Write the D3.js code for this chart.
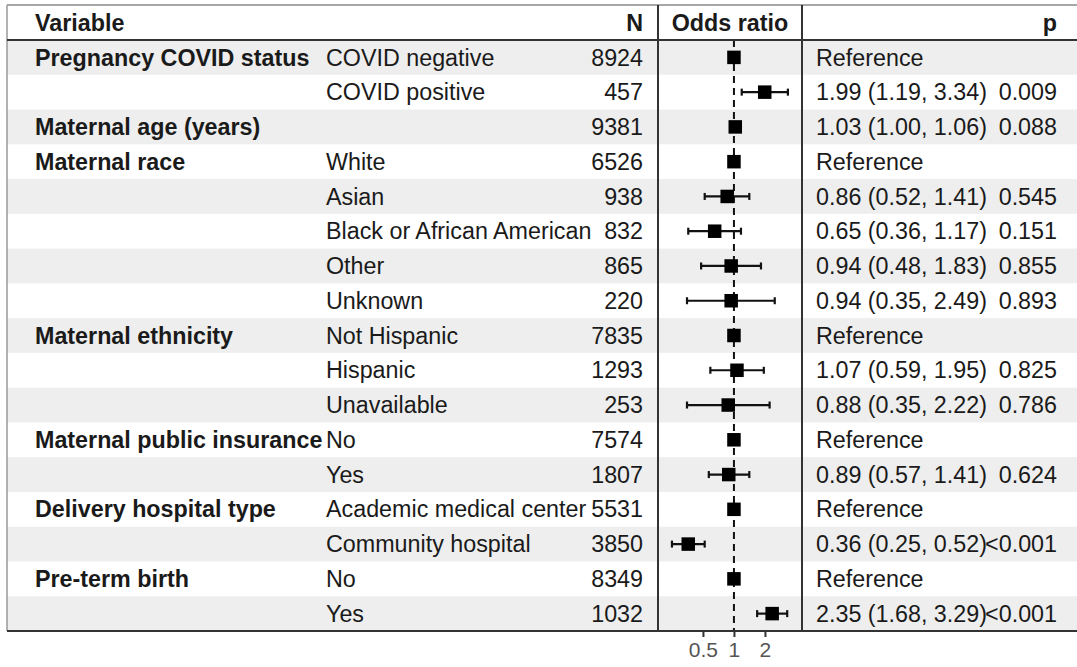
<!DOCTYPE html>
<html>
<head>
<meta charset="utf-8">
<script src="https://cdn.jsdelivr.net/npm/d3@7"></script>
<style>
  body { margin: 0; background: #fff; }
  svg text { font-family: "Liberation Sans", Arial, sans-serif; fill: #1a1a1a; }
</style>
</head>
<body>
<div id="chart"></div>
<script>
// table rows, top to bottom
var groups = ["Pregnancy COVID status", "", "Maternal age (years)", "Maternal race", "", "", "", "",
    "Maternal ethnicity", "", "", "Maternal public insurance", "", "Delivery hospital type", "",
    "Pre-term birth", ""];
var levels = ["COVID negative", "COVID positive", "", "White", "Asian", "Black or African American",
    "Other", "Unknown", "Not Hispanic", "Hispanic", "Unavailable", "No", "Yes",
    "Academic medical center", "Community hospital", "No", "Yes"];
var nValues = [8924, 457, 9381, 6526, 938, 832, 865, 220, 7835, 1293, 253, 7574, 1807, 5531, 3850, 8349, 1032];
var estimates = [1, 1.99, 1.03, 1, 0.86, 0.65, 0.94, 0.94, 1, 1.07, 0.88, 1, 0.89, 1, 0.36, 1, 2.35];
var lower = [null, 1.19, 1.00, null, 0.52, 0.36, 0.48, 0.35, null, 0.59, 0.35, null, 0.57, null, 0.25, null, 1.68];
var upper = [null, 3.34, 1.06, null, 1.41, 1.17, 1.83, 2.49, null, 1.95, 2.22, null, 1.41, null, 0.52, null, 3.29];
var pValues = ["", "0.009", "0.088", "", "0.545", "0.151", "0.855", "0.893", "", "0.825", "0.786", "",
    "0.624", "", "<0.001", "", "<0.001"];
var tickValues = [0.5, 1, 2];

var width = 1077;
var height = 667;
var fontSize = 23.3;

var tableTop = 5, headBottom = 40, tableBottom = 631;
var tableLeft = 7, tableRight = 1077;
var colLevel = 326, colN = 643, plotLeft = 658, plotRight = 802, colEst = 816, colP = 1057;

var rows = d3.range(estimates.length);

var y = d3.scaleBand()
    .domain(rows)
    .range([headBottom, tableBottom]);

// log scale for odds ratio column
var x = d3.scaleLog()
    .domain([0.183, 4.58])
    .range([plotLeft, plotRight]);

var svg = d3.select('#chart').append('svg')
    .attr('width', width)
    .attr('height', height);

// striped row backgrounds
svg.append('g').selectAll('rect')
    .data(rows.filter(function (i) { return i % 2 === 0; }))
    .enter().append('rect')
    .attr('x', tableLeft)
    .attr('y', function (i) { return y(i); })
    .attr('width', tableRight - tableLeft)
    .attr('height', y.bandwidth())
    .attr('fill', '#eeeeee');

// header
var head = svg.append('g').attr('font-weight', 'bold').attr('font-size', fontSize);
var headY = (tableTop + headBottom) / 2;
head.append('text').attr('x', 35).attr('y', headY).attr('dy', '0.35em').text('Variable');
head.append('text').attr('x', colN).attr('y', headY).attr('dy', '0.35em').attr('text-anchor', 'end').text('N');
head.append('text').attr('x', (plotLeft + plotRight) / 2).attr('y', headY).attr('dy', '0.35em')
    .attr('text-anchor', 'middle').text('Odds ratio');
head.append('text').attr('x', colP).attr('y', headY).attr('dy', '0.35em').attr('text-anchor', 'end').text('p');

// table body text
var body = svg.append('g').attr('font-size', fontSize);
var rowY = function (i) { return y(i) + y.bandwidth() / 2; };

body.selectAll('text.group')
    .data(rows).enter().append('text')
    .attr('class', 'group')
    .attr('x', 35).attr('y', rowY).attr('dy', '0.35em')
    .attr('font-weight', 'bold')
    .text(function (i) { return groups[i]; });

body.selectAll('text.level')
    .data(rows).enter().append('text')
    .attr('class', 'level')
    .attr('x', colLevel).attr('y', rowY).attr('dy', '0.35em')
    .text(function (i) { return levels[i]; });

body.selectAll('text.n')
    .data(rows).enter().append('text')
    .attr('class', 'n')
    .attr('x', colN).attr('y', rowY).attr('dy', '0.35em')
    .attr('text-anchor', 'end')
    .text(function (i) { return nValues[i]; });

body.selectAll('text.est')
    .data(rows).enter().append('text')
    .attr('class', 'est')
    .attr('x', colEst).attr('y', rowY).attr('dy', '0.35em')
    .text(function (i) {
        if (lower[i] === null) return 'Reference';
        return estimates[i].toFixed(2) + ' (' + lower[i].toFixed(2) + ', ' + upper[i].toFixed(2) + ')';
    });

body.selectAll('text.p')
    .data(rows).enter().append('text')
    .attr('class', 'p')
    .attr('x', colP).attr('y', rowY).attr('dy', '0.35em')
    .attr('text-anchor', 'end')
    .text(function (i) { return pValues[i]; });

// reference line at OR = 1
svg.append('line')
    .attr('x1', x(1)).attr('x2', x(1))
    .attr('y1', headBottom).attr('y2', tableBottom)
    .attr('stroke', '#111')
    .attr('stroke-width', 2)
    .attr('stroke-dasharray', '7,5');

// confidence intervals
var ci = svg.append('g').attr('stroke', '#111').attr('stroke-width', 2.2);
var ciRows = rows.filter(function (i) { return lower[i] !== null; });
ci.selectAll('line.ci')
    .data(ciRows).enter().append('line')
    .attr('x1', function (i) { return x(lower[i]); })
    .attr('x2', function (i) { return x(upper[i]); })
    .attr('y1', rowY).attr('y2', rowY);
ci.selectAll('line.capl')
    .data(ciRows).enter().append('line')
    .attr('x1', function (i) { return x(lower[i]); })
    .attr('x2', function (i) { return x(lower[i]); })
    .attr('y1', function (i) { return rowY(i) - 3.5; })
    .attr('y2', function (i) { return rowY(i) + 3.5; });
ci.selectAll('line.capu')
    .data(ciRows).enter().append('line')
    .attr('x1', function (i) { return x(upper[i]); })
    .attr('x2', function (i) { return x(upper[i]); })
    .attr('y1', function (i) { return rowY(i) - 3.5; })
    .attr('y2', function (i) { return rowY(i) + 3.5; });

// point estimates
var sq = 13.5;
svg.append('g').selectAll('rect')
    .data(rows).enter().append('rect')
    .attr('x', function (i) { return x(estimates[i]) - sq / 2; })
    .attr('y', function (i) { return rowY(i) - sq / 2; })
    .attr('width', sq)
    .attr('height', sq)
    .attr('fill', '#000');

// table borders
var lines = svg.append('g');
lines.append('line').attr('x1', tableLeft).attr('x2', tableRight).attr('y1', tableTop).attr('y2', tableTop)
    .attr('stroke', '#888').attr('stroke-width', 1.5);
lines.append('line').attr('x1', tableLeft).attr('x2', tableLeft).attr('y1', tableTop).attr('y2', tableBottom)
    .attr('stroke', '#999').attr('stroke-width', 1.5);
lines.append('line').attr('x1', tableLeft).attr('x2', tableRight).attr('y1', headBottom).attr('y2', headBottom)
    .attr('stroke', '#333').attr('stroke-width', 2);
lines.append('line').attr('x1', tableLeft).attr('x2', tableRight).attr('y1', tableBottom).attr('y2', tableBottom)
    .attr('stroke', '#333').attr('stroke-width', 2);
[plotLeft, plotRight].forEach(function (xx) {
    lines.append('line').attr('x1', xx).attr('x2', xx).attr('y1', tableTop).attr('y2', tableBottom)
        .attr('stroke', '#333').attr('stroke-width', 2);
});

// x axis
var xAxis = d3.axisBottom(x)
    .tickValues(tickValues)
    .tickFormat(d3.format(''))
    .tickSize(6)
    .tickPadding(5);

var axisG = svg.append('g')
    .attr('class', 'axis x')
    .attr('transform', 'translate(0, ' + tableBottom + ')')
    .call(xAxis);
axisG.select('.domain').remove();
axisG.selectAll('.tick line').attr('stroke', '#333').attr('stroke-width', 2);
axisG.selectAll('.tick text')
    .style('font-size', '21px')
    .style('font-family', '"Liberation Sans", Arial, sans-serif')
    .style('fill', '#555');
</script>
</body>
</html>
